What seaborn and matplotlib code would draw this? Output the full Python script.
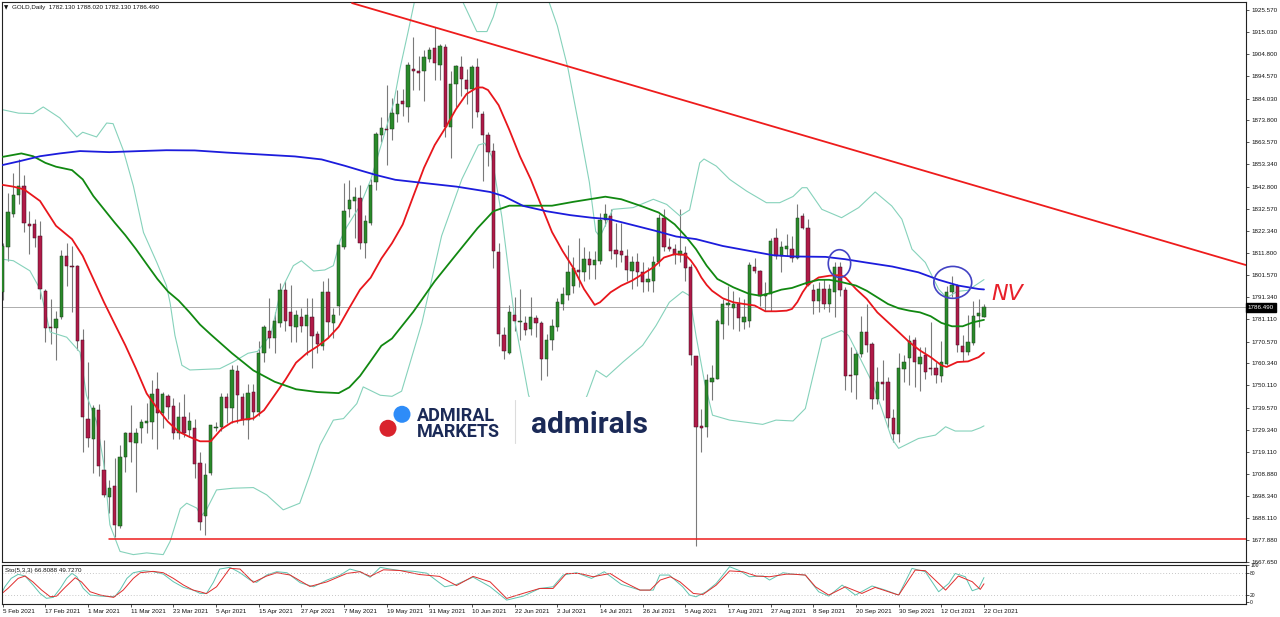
"""
GOLD Daily - candles, MAs, Bollinger, stochastic (MT4 style)
"""
import numpy as np
import pandas as pd
import matplotlib
matplotlib.use('Agg')
import matplotlib.pyplot as plt
import matplotlib.transforms as mtransforms
from matplotlib.patches import Ellipse, Rectangle
from matplotlib.lines import Line2D
import seaborn as sns

sns.set_theme(style='white')
plt.rcParams['font.family'] = ['Liberation Sans', 'DejaVu Sans']

# ---------------- data ----------------
dates = pd.bdate_range('2021-02-05', '2021-10-22')
dates = dates[dates != pd.Timestamp('2021-04-02')]   # Good Friday, no bar

opens = [
    1793.6, 1814.5, 1830.3, 1838.8, 1843.2, 1825.6, 1825.6, 1819.9, 1794.0, 1777.3,
    1776.8, 1781.9, 1810.3, 1806.0, 1806.0, 1771.1, 1734.2, 1725.3, 1738.5, 1710.6,
    1698.2, 1703.3, 1684.3, 1716.8, 1727.7, 1723.3, 1730.3, 1732.5, 1733.1, 1748.6,
    1737.4, 1745.2, 1740.5, 1728.1, 1735.4, 1729.2, 1730.0, 1713.8, 1689.0, 1709.4,
    1730.1, 1730.6, 1744.7, 1739.4, 1756.6, 1744.7, 1734.1, 1747.0, 1737.7, 1765.1,
    1775.7, 1772.1, 1779.2, 1794.8, 1784.5, 1777.4, 1781.9, 1777.8, 1781.9, 1773.9,
    1768.6, 1793.7, 1779.3, 1787.2, 1814.6, 1832.3, 1836.2, 1837.6, 1816.4, 1826.1,
    1845.0, 1866.8, 1869.8, 1869.8, 1876.8, 1882.7, 1880.0, 1898.0, 1896.8, 1896.8,
    1902.7, 1907.4, 1899.8, 1908.0, 1870.8, 1890.6, 1898.6, 1892.8, 1888.5, 1898.6,
    1876.8, 1866.8, 1859.7, 1812.5, 1773.6, 1765.4, 1783.1, 1779.6, 1779.2, 1776.6,
    1781.4, 1779.2, 1762.4, 1771.3, 1777.5, 1788.0, 1792.5, 1796.5, 1804.0, 1803.1,
    1809.3, 1806.5, 1808.3, 1827.3, 1829.0, 1813.4, 1812.9, 1810.6, 1803.6, 1807.5,
    1803.2, 1798.5, 1799.0, 1807.5, 1828.4, 1814.8, 1814.0, 1810.9, 1812.1, 1805.6,
    1763.8, 1731.2, 1730.8, 1751.7, 1753.2, 1778.8, 1787.7, 1786.1, 1788.1, 1779.6,
    1780.4, 1805.6, 1803.6, 1792.0, 1792.8, 1818.7, 1810.3, 1814.0, 1814.0, 1809.8,
    1829.2, 1823.8, 1794.8, 1789.7, 1795.1, 1788.1, 1793.6, 1805.2, 1794.8, 1755.1,
    1754.8, 1764.9, 1775.0, 1769.5, 1743.6, 1751.7, 1751.7, 1734.9, 1727.2, 1757.6,
    1762.9, 1771.1, 1760.2, 1764.1, 1758.2, 1758.2, 1754.5, 1760.2, 1793.6, 1796.6,
    1768.4, 1765.7, 1770.0, 1782.4, 1782.13]
highs = [
    1816.5, 1840.0, 1849.4, 1855.9, 1848.1, 1831.5, 1827.7, 1826.9, 1795.1, 1790.5,
    1785.0, 1813.4, 1816.5, 1815.0, 1806.3, 1776.5, 1761.0, 1740.9, 1741.6, 1724.6,
    1706.0, 1716.0, 1722.3, 1728.4, 1740.9, 1730.0, 1734.3, 1742.0, 1752.5, 1756.4,
    1747.0, 1746.3, 1744.0, 1742.4, 1746.3, 1737.7, 1734.6, 1719.1, 1713.8, 1731.8,
    1733.2, 1746.5, 1746.5, 1759.4, 1759.8, 1746.5, 1750.6, 1750.6, 1770.7, 1778.3,
    1790.7, 1784.5, 1797.8, 1798.7, 1796.9, 1785.4, 1786.3, 1790.7, 1790.7, 1775.7,
    1799.0, 1800.1, 1786.3, 1816.4, 1844.7, 1846.1, 1842.9, 1843.8, 1829.6, 1846.4,
    1868.5, 1875.6, 1890.3, 1884.4, 1888.0, 1888.5, 1900.9, 1912.7, 1903.9, 1906.5,
    1908.3, 1917.2, 1909.7, 1909.7, 1896.8, 1899.8, 1903.9, 1897.7, 1899.8, 1903.0,
    1878.3, 1868.5, 1863.2, 1816.4, 1777.5, 1787.7, 1791.2, 1795.1, 1782.4, 1791.6,
    1782.8, 1780.1, 1773.9, 1781.0, 1790.7, 1796.0, 1815.5, 1810.2, 1819.0, 1814.6,
    1813.0, 1813.0, 1830.4, 1834.6, 1832.3, 1826.1, 1825.8, 1813.7, 1810.6, 1811.8,
    1807.5, 1805.6, 1810.3, 1830.0, 1832.3, 1819.1, 1816.0, 1832.3, 1815.2, 1806.7,
    1764.0, 1739.3, 1755.6, 1759.5, 1781.2, 1790.5, 1796.7, 1794.3, 1791.2, 1790.5,
    1807.5, 1809.8, 1804.1, 1798.2, 1819.1, 1823.8, 1817.6, 1820.7, 1820.0, 1834.6,
    1830.8, 1827.7, 1797.4, 1798.2, 1799.8, 1797.4, 1807.5, 1807.5, 1795.9, 1768.0,
    1766.4, 1782.7, 1788.1, 1770.3, 1758.7, 1761.8, 1754.0, 1739.3, 1765.3, 1764.4,
    1773.4, 1772.6, 1768.0, 1768.0, 1779.6, 1761.0, 1770.6, 1796.3, 1801.3, 1797.4,
    1773.4, 1783.0, 1789.7, 1790.5, 1788.02]
lows = [
    1790.0, 1808.3, 1828.9, 1834.6, 1821.5, 1811.4, 1814.5, 1790.5, 1770.3, 1769.5,
    1761.8, 1781.0, 1796.7, 1784.6, 1766.4, 1718.8, 1721.5, 1709.0, 1708.0, 1698.2,
    1690.5, 1679.1, 1683.5, 1709.9, 1714.5, 1700.5, 1723.0, 1728.0, 1725.3, 1720.4,
    1730.0, 1734.6, 1725.3, 1725.3, 1726.1, 1726.1, 1706.7, 1682.8, 1680.2, 1708.5,
    1728.8, 1728.8, 1732.4, 1732.4, 1732.7, 1731.8, 1725.3, 1734.1, 1735.9, 1761.0,
    1767.7, 1765.1, 1777.4, 1775.7, 1770.4, 1770.4, 1774.8, 1764.2, 1758.0, 1765.1,
    1766.8, 1772.2, 1772.2, 1782.8, 1813.7, 1828.7, 1819.0, 1813.7, 1809.6, 1825.2,
    1841.5, 1863.8, 1853.2, 1864.5, 1873.3, 1876.0, 1873.0, 1888.0, 1888.0, 1882.7,
    1901.2, 1892.8, 1892.8, 1866.2, 1856.1, 1880.0, 1885.3, 1881.4, 1870.3, 1875.6,
    1845.5, 1852.6, 1804.9, 1768.6, 1762.4, 1764.7, 1775.7, 1771.3, 1773.6, 1773.6,
    1772.5, 1752.7, 1754.5, 1766.8, 1775.3, 1785.4, 1790.2, 1793.4, 1796.0, 1798.7,
    1800.0, 1800.0, 1806.7, 1824.6, 1809.0, 1805.2, 1807.5, 1799.0, 1795.1, 1796.6,
    1793.6, 1794.3, 1793.6, 1806.0, 1812.9, 1812.9, 1806.7, 1807.5, 1799.0, 1759.8,
    1674.9, 1719.1, 1726.1, 1743.2, 1752.9, 1771.9, 1778.1, 1776.5, 1775.3, 1776.5,
    1777.3, 1802.5, 1787.3, 1785.0, 1785.0, 1809.1, 1802.9, 1810.6, 1807.5, 1809.0,
    1823.0, 1796.3, 1783.5, 1784.6, 1785.8, 1784.2, 1781.9, 1792.0, 1747.8, 1747.0,
    1743.6, 1763.3, 1765.7, 1739.3, 1741.6, 1743.2, 1730.0, 1723.5, 1723.8, 1751.7,
    1750.1, 1749.4, 1747.4, 1752.9, 1754.8, 1751.4, 1751.7, 1759.8, 1791.2, 1765.7,
    1761.3, 1764.4, 1768.8, 1777.3, 1782.13]
closes = [
    1815.3, 1831.1, 1838.8, 1843.2, 1826.1, 1824.6, 1819.1, 1795.1, 1776.8, 1776.7,
    1780.9, 1810.6, 1806.0, 1805.4, 1770.8, 1735.4, 1725.6, 1739.6, 1712.6, 1699.0,
    1702.1, 1685.0, 1716.8, 1728.0, 1723.8, 1727.7, 1732.8, 1733.4, 1746.3, 1737.4,
    1746.3, 1740.1, 1728.1, 1735.4, 1728.1, 1733.4, 1713.3, 1686.4, 1708.5, 1731.5,
    1730.6, 1744.7, 1739.4, 1757.1, 1745.6, 1734.1, 1746.5, 1737.7, 1765.1, 1777.4,
    1772.1, 1780.1, 1794.8, 1780.1, 1777.8, 1782.8, 1777.8, 1782.8, 1773.0, 1769.5,
    1793.7, 1779.6, 1782.8, 1815.5, 1831.4, 1836.7, 1837.9, 1816.4, 1827.0, 1843.8,
    1867.3, 1870.3, 1869.3, 1877.4, 1881.4, 1881.3, 1899.5, 1896.8, 1895.9, 1903.5,
    1906.9, 1900.4, 1908.7, 1870.8, 1891.0, 1899.1, 1893.3, 1888.5, 1898.6, 1877.9,
    1866.8, 1859.2, 1812.8, 1774.3, 1766.0, 1784.2, 1780.1, 1780.3, 1776.0, 1781.9,
    1779.2, 1762.4, 1771.3, 1777.8, 1788.9, 1793.0, 1803.1, 1804.9, 1803.1, 1809.3,
    1806.5, 1808.7, 1827.3, 1830.0, 1812.9, 1811.4, 1810.9, 1804.1, 1807.5, 1802.9,
    1798.5, 1799.7, 1807.5, 1828.4, 1814.5, 1814.0, 1810.9, 1812.9, 1804.7, 1764.4,
    1730.8, 1730.3, 1752.5, 1753.6, 1780.4, 1788.1, 1788.7, 1788.1, 1781.5, 1781.9,
    1806.3, 1803.6, 1792.0, 1792.8, 1817.6, 1810.6, 1814.5, 1815.0, 1809.8, 1828.4,
    1823.8, 1796.9, 1789.7, 1795.1, 1788.1, 1795.1, 1805.2, 1794.8, 1754.5, 1754.5,
    1764.9, 1775.0, 1768.8, 1743.6, 1751.7, 1750.9, 1734.9, 1727.2, 1758.2, 1761.0,
    1770.6, 1761.0, 1763.3, 1756.3, 1757.6, 1755.1, 1761.0, 1793.9, 1796.9, 1768.8,
    1765.7, 1770.3, 1782.7, 1784.0, 1786.49]

# moving averages (bar index, price) read at points along each line
ma20_idx = [0, 2, 4, 7, 10, 13, 15, 17, 19, 21, 23, 25, 27, 29, 31, 33, 35, 37, 39, 41,
            43, 45, 47, 49, 51, 53, 55, 57, 59, 61, 63, 65, 67, 69, 71, 73, 75, 77, 79, 81,
            83, 85, 87, 89, 90, 91, 93, 95, 97, 99, 101, 103, 105, 107, 109, 111, 112, 114,
            116, 118, 120, 122, 124, 126, 128, 129, 130, 131, 132, 133, 135, 137, 139, 141,
            143, 145, 147, 148, 149, 150, 151, 153, 155, 157, 158, 160, 162, 164, 166, 168,
            170, 172, 174, 176, 177, 179, 181, 183, 184]
ma20_val = [1843.7, 1842.9, 1841.6, 1836.2, 1824.6, 1818.4, 1810.6, 1799.8, 1788.9, 1778.8,
            1768.8, 1757.9, 1746.3, 1739.3, 1733.1, 1728.5, 1726.1, 1724.0, 1724.0, 1729.7,
            1732.9, 1734.1, 1734.7, 1738.5, 1745.6, 1752.7, 1760.7, 1765.1, 1768.3, 1772.1,
            1777.5, 1786.3, 1794.8, 1800.4, 1809.3, 1816.5, 1825.2, 1838.5, 1851.7, 1862.3,
            1870.3, 1879.1, 1886.2, 1889.2, 1889.2, 1888.0, 1880.9, 1869.4, 1857.0, 1846.4,
            1834.0, 1821.7, 1812.8, 1804.9, 1795.1, 1787.7, 1788.9, 1793.6, 1796.7, 1799.0,
            1802.1, 1805.2, 1809.8, 1811.4, 1811.0, 1808.5, 1805.0, 1800.5, 1797.0, 1794.3,
            1790.8, 1788.9, 1788.1, 1787.4, 1784.7, 1784.7, 1785.0, 1785.8, 1789.0, 1793.6,
            1797.2, 1800.5, 1801.3, 1801.6, 1800.5, 1795.1, 1790.5, 1784.2, 1779.6, 1775.0,
            1770.3, 1766.4, 1763.3, 1759.5, 1758.7, 1761.0, 1761.3, 1763.3, 1765.3]

ma50_idx = [0, 3.5, 5.7, 8, 10, 13, 15, 17, 19, 21, 23, 25, 27, 29, 31, 33, 35, 37, 39, 43,
            47, 51, 55, 59, 63, 65, 67, 69, 71, 73, 77, 81, 85, 89, 92, 95, 99, 103, 107, 110,
            113, 116, 120, 123, 126, 128, 130, 132, 134, 137, 140, 142, 144, 146, 148, 151,
            153, 155, 157, 160, 162, 164, 166, 168, 170, 172, 174, 176, 178, 180, 182, 184]
ma50_val = [1856.8, 1858.4, 1857.1, 1854.0, 1852.2, 1850.6, 1846.3, 1838.5, 1832.3, 1826.1,
            1820.2, 1813.7, 1806.7, 1799.8, 1793.9, 1789.7, 1784.3, 1778.5, 1773.9, 1765.1,
            1757.1, 1751.8, 1748.3, 1747.0, 1746.5, 1749.2, 1754.5, 1761.5, 1768.6, 1772.0,
            1784.5, 1798.7, 1811.1, 1823.4, 1831.4, 1834.0, 1834.0, 1834.0, 1835.8, 1837.0,
            1838.2, 1837.0, 1833.6, 1830.8, 1825.3, 1819.9, 1813.7, 1806.0, 1799.8, 1795.9,
            1792.8, 1792.0, 1793.2, 1794.8, 1795.6, 1798.2, 1799.4, 1799.4, 1798.5, 1796.7,
            1794.3, 1791.2, 1788.1, 1786.1, 1785.0, 1784.2, 1782.4, 1779.3, 1777.7, 1777.7,
            1779.6, 1780.7]

ma200_idx = [0, 3.2, 7, 10.7, 14.5, 20, 25.7, 30.7, 36, 42, 48.5, 54.8, 59.8, 64.2, 67.3,
             70.2, 73.6, 78.9, 85.1, 91.4, 93.9, 97.6, 102, 106.4, 110.4, 113.8, 117.6, 122.5,
             126.3, 130, 135, 140, 144.4, 148.2, 154.3, 158, 161.8, 166.8, 171.7, 175.5,
             179.2, 183, 184]
ma200_val = [1853.0, 1854.8, 1857.1, 1858.4, 1859.5, 1859.0, 1859.5, 1859.9, 1859.8, 1858.8,
             1857.9, 1857.0, 1855.6, 1852.6, 1850.3, 1848.2, 1846.1, 1844.6, 1842.9, 1840.4,
             1838.5, 1833.9, 1831.4, 1829.6, 1828.4, 1827.7, 1825.3, 1822.2, 1819.6, 1818.4,
             1815.2, 1812.9, 1810.9, 1810.3, 1810.1, 1809.0, 1807.5, 1805.6, 1802.9, 1799.4,
             1796.7, 1795.1, 1794.9]

# Bollinger bands (20)
bb_up_idx = [0, 3, 5.7, 7.6, 10.7, 13.9, 15, 17.6, 19.5, 20.7, 22.6, 24.5, 26.4, 28.9, 30.7,
             31.4, 32.3, 33.6, 35.1, 37, 40.7, 43.2, 46, 47.8, 50.3, 52, 53, 54.5, 56, 58.3,
             60.4, 62, 63.3, 64.5, 67, 69, 71.4, 73.3, 74.5, 76, 77.7, 80, 84, 86.3, 88.9,
             90.8, 92, 93.5, 96, 100, 102.6, 104, 106, 108, 110, 111.2, 112, 114.4, 118.2,
             122, 124.5, 127, 128.8, 130.7, 131.5, 133.8, 136.3, 139.5, 143.2, 145.7, 148.2,
             149.9, 150.8, 153.6, 157.3, 160.5, 163.6, 166.7, 168.6, 170.5, 173, 175.5, 177,
             179, 181, 184]
bb_up_val = [1878.8, 1877.2, 1877.0, 1880.1, 1875.0, 1866.1, 1868.3, 1866.1, 1872.6, 1872.3,
             1860.0, 1843.2, 1821.5, 1807.5, 1796.7, 1788.5, 1773.4, 1759.5, 1757.3, 1757.5,
             1757.9, 1761.0, 1765.1, 1766.0, 1773.9, 1793.0, 1798.5, 1806.0, 1808.3, 1803.5,
             1804.0, 1806.0, 1818.0, 1824.0, 1834.0, 1846.0, 1866.0, 1882.0, 1898.0, 1915.0,
             1935.0, 1950.0, 1945.0, 1929.0, 1915.3, 1915.3, 1922.2, 1935.0, 1950.0, 1945.0,
             1928.0, 1918.0, 1898.0, 1872.0, 1845.0, 1822.0, 1819.5, 1832.3, 1833.1, 1837.0,
             1834.6, 1829.2, 1832.0, 1854.0, 1855.8, 1852.5, 1846.3, 1840.8, 1835.4, 1835.4,
             1838.3, 1842.4, 1842.4, 1832.3, 1828.4, 1833.1, 1840.4, 1833.9, 1827.7, 1813.7,
             1807.5, 1795.0, 1791.0, 1794.0, 1794.5, 1799.5]
bb_lo_idx = [0, 2, 5.1, 7, 8.9, 12, 14.5, 15.7, 17.6, 18.9, 20.1, 22, 24.5, 27, 30.1, 31.4,
             33.3, 34.5, 36.4, 37.2, 38.2, 40.1, 43.2, 47, 49.5, 52.6, 55.7, 57.6, 59.5, 62,
             63.9, 66.4, 67.6, 70.8, 73, 74.8, 78.6, 82.3, 86.1, 89.2, 90.4, 91.7, 93.6, 96.1,
             98.6, 100.5, 103, 106, 108, 109.6, 111.3, 113.2, 116.3, 120, 122.5, 125, 127.5,
             128.8, 130, 131.6, 133.1, 136.3, 142.5, 145, 148.2, 150.5, 153.6, 157.3, 158.6,
             160.5, 163, 164.8, 166.7, 168, 169.2, 171.7, 174.9, 176.8, 178.6, 181.7, 183.3, 184]
bb_lo_val = [1809.0, 1808.3, 1803.6, 1795.1, 1775.0, 1772.6, 1765.6, 1745.5, 1733.1, 1714.5,
             1685.0, 1672.6, 1671.1, 1671.9, 1671.1, 1677.3, 1692.5, 1695.1, 1692.8, 1689.0,
             1692.0, 1701.3, 1702.1, 1702.4, 1699.0, 1692.0, 1695.1, 1708.3, 1722.3, 1733.9,
             1734.6, 1741.6, 1749.4, 1745.5, 1745.0, 1747.4, 1779.2, 1819.9, 1846.4, 1862.3,
             1863.2, 1857.0, 1828.7, 1779.2, 1745.6, 1733.0, 1726.0, 1728.0, 1737.0, 1745.5,
             1757.1, 1754.0, 1761.0, 1768.8, 1778.0, 1788.9, 1793.9, 1792.0, 1773.4, 1751.7,
             1736.2, 1733.9, 1731.9, 1733.9, 1733.5, 1739.3, 1771.9, 1775.7, 1773.4, 1764.1,
             1751.7, 1739.3, 1725.3, 1720.7, 1722.2, 1725.3, 1726.9, 1730.8, 1728.8, 1728.8,
             1730.3, 1731.2]

# stochastic (5,3,3)
sto_k_idx = [0, 0.4, 1.6, 2.9, 4.2, 5.7, 7, 8.2, 9.5, 10.8, 12, 13, 13.9, 15.1, 16.4, 18.3,
             20.1, 21.1, 22, 23.3, 24.5, 26.4, 28.2, 30.1, 32, 33.9, 35.7, 37, 38.2, 39.5,
             40.7, 42.6, 44.5, 46.4, 47.6, 49.5, 51.4, 53.3, 55.8, 58.3, 60.8, 63.3, 65.1, 67,
             68.9, 70.8, 72.6, 74.5, 77, 79.5, 82.9, 85.1, 88.2, 91.4, 94.5, 97.6, 100.7,
             103.2, 105.1, 107.6, 110.4, 112.8, 116, 119.5, 122, 123.2, 125, 127.5, 128.8,
             130, 131.9, 133.8, 136.3, 138.2, 140, 142.6, 143.8, 146.3, 148.2, 150.5, 153,
             154.9, 157.4, 159.9, 163, 165.5, 168, 170.5, 173, 175.5, 177.4, 178.6, 180.5,
             181.8, 183, 184]
sto_k_val = [30.0, 41.6, 64.6, 75.6, 71.0, 46.3, 23.6, 10.0, 12.6, 37.3, 64.6, 78.3, 69.0,
             37.3, 19.0, 16.2, 14.4, 16.0, 32.6, 64.6, 80.0, 85.5, 82.8, 76.4, 55.4, 40.0,
             32.6, 23.6, 23.0, 53.6, 90.0, 94.8, 80.0, 60.0, 53.6, 73.7, 82.8, 80.0, 52.6,
             41.6, 60.0, 73.7, 90.0, 82.8, 67.4, 94.8, 90.0, 86.0, 84.0, 78.8, 41.6, 48.0,
             68.0, 41.6, 5.2, 16.0, 37.0, 41.6, 73.7, 80.0, 64.5, 82.7, 48.0, 32.5, 32.5,
             73.6, 73.6, 41.6, 18.8, 14.2, 28.0, 50.8, 96.4, 85.5, 69.0, 71.0, 60.0, 80.0,
             76.0, 73.6, 28.0, 16.0, 46.2, 18.8, 43.8, 32.5, 18.8, 91.8, 82.7, 28.0, 50.8,
             78.0, 69.0, 30.7, 37.0, 66.8]
sto_d_idx = [0, 1, 2.9, 4.2, 5.7, 7.3, 8.9, 10.1, 11.7, 13.6, 14.8, 16.4, 18.3, 20.8, 22.6,
             24.5, 25.8, 28.2, 30.1, 32, 33.9, 35.7, 37, 38.2, 40.1, 42.6, 44.5, 47, 49.5,
             51.4, 53.9, 57.6, 60.8, 64.5, 67, 68.9, 71.4, 74.5, 78.2, 81.9, 85.1, 88.2, 91.4,
             94.5, 97.6, 100.7, 103.2, 105.7, 108.2, 110.7, 113.9, 116.4, 119.5, 121.4, 123.3,
             125.2, 127, 129.5, 131.3, 133.8, 136.3, 138.8, 141.3, 143.8, 146.9, 148.2, 150.5,
             152.4, 154.9, 158, 161.1, 163.6, 168, 171.1, 173, 175.5, 176.8, 179.2, 181.8,
             183.3, 184]
sto_d_val = [25.0, 37.3, 64.6, 71.0, 54.5, 32.6, 14.4, 16.0, 40.0, 66.3, 54.5, 28.0, 19.0,
             12.6, 32.6, 64.6, 80.0, 83.7, 80.0, 64.6, 46.3, 32.6, 28.0, 23.0, 41.6, 92.0,
             90.0, 53.6, 71.0, 80.0, 73.7, 42.5, 55.0, 78.0, 82.8, 70.0, 88.0, 86.0, 75.0,
             70.0, 45.0, 70.0, 55.0, 9.7, 23.6, 37.0, 37.0, 78.0, 78.0, 69.0, 78.0, 55.0,
             32.5, 32.5, 60.0, 69.0, 55.0, 23.4, 20.6, 46.2, 85.0, 82.7, 71.0, 69.0, 76.0,
             76.0, 73.6, 41.6, 18.8, 41.6, 23.4, 39.9, 18.8, 87.3, 85.5, 50.8, 32.5, 71.0,
             55.4, 34.4, 49.7]

# drawn objects
trend_idx = [65.5, 233.1]
trend_val = [1928.6, 1806.3]
support_start = 19.9
support_level = 1678.4
last_price = 1786.49
price_ticks = [1925.57, 1915.03, 1904.80, 1894.57, 1884.03, 1873.80, 1863.57, 1853.34,
               1842.80, 1832.57, 1822.34, 1811.80, 1801.57, 1791.34, 1781.11, 1770.57,
               1760.34, 1750.11, 1739.57, 1729.34, 1719.11, 1708.88, 1698.34, 1688.11,
               1677.88, 1667.65]
circle_idx = [156.9, 178.15]
circle_val = [1807.0, 1798.2]
circle_w = [4.2, 7.1]
circle_h = [12.9, 14.9]

# ---------------- figure ----------------
W, H = 1280, 617
GREEN = '#2a8a2a'
RED = '#b01a48'


def fx(x):
    return x / W


def fy(y):
    return 1 - y / H


fig = plt.figure(figsize=(W / 100, H / 100), dpi=100)
fig.patch.set_facecolor('white')
ax = fig.add_axes([fx(2), fy(562), (1246 - 2) / W, (562 - 2) / H])
ax2 = fig.add_axes([fx(2), fy(604), (1246 - 2) / W, (604 - 565) / H])

df = pd.DataFrame({'date': dates, 'open': opens, 'high': highs,
                   'low': lows, 'close': closes})
df['i'] = np.arange(len(df))
up = df['close'] >= df['open']
body_lo = np.minimum(df['open'], df['close'])
body_h = (df['close'] - df['open']).abs().clip(lower=0.45)

# wicks and bodies
ax.vlines(df['i'], df['low'], df['high'], color='#7a7a7a', lw=0.8, zorder=2)
ax.bar(df['i'][up], body_h[up], bottom=body_lo[up], width=0.62, color=GREEN,
       edgecolor='#1d3b1d', linewidth=0.35, zorder=3)
ax.bar(df['i'][~up], body_h[~up], bottom=body_lo[~up], width=0.62, color=RED,
       edgecolor='#3b1020', linewidth=0.35, zorder=3)

# indicators
bb_col = '#86d2bb'
sns.lineplot(x=bb_up_idx, y=bb_up_val, ax=ax, color=bb_col, lw=0.8, estimator=None,
             sort=False, legend=False, zorder=2.5)
sns.lineplot(x=bb_lo_idx, y=bb_lo_val, ax=ax, color=bb_col, lw=0.8, estimator=None,
             sort=False, legend=False, zorder=2.5)
sns.lineplot(x=ma20_idx, y=ma20_val, ax=ax, color='#e8161c', lw=1.3, estimator=None,
             sort=False, legend=False, zorder=4)
sns.lineplot(x=ma50_idx, y=ma50_val, ax=ax, color='#118811', lw=1.3, estimator=None,
             sort=False, legend=False, zorder=4)
sns.lineplot(x=ma200_idx, y=ma200_val, ax=ax, color='#1c1cdc', lw=1.3, estimator=None,
             sort=False, legend=False, zorder=4)

# trend line, support, current price
ax.plot(trend_idx, trend_val, color='#ee1c1c', lw=1.3, zorder=4)
ax.plot([support_start, 240], [support_level, support_level], color='#ee1c1c', lw=1.1, zorder=4)
ax.axhline(last_price, color='#a0a0a0', lw=0.6, zorder=1.5)

for cx, cy, w, h in zip(circle_idx, circle_val, circle_w, circle_h):
    ax.add_patch(Ellipse((cx, cy), w, h, fill=False, edgecolor='#4343c4', lw=1.2, zorder=7))

ax.text(185.3, 1792.8, 'NV', color='#e8202a', fontsize=16, fontstyle='italic',
        family=['DejaVu Sans'], ha='left', va='center', zorder=7)

ax.set_xlim(-0.13, 233.13)
ax.set_ylim(1668.6, 1929.1)
ax.yaxis.tick_right()
ax.set_yticks(price_ticks)
ax.set_yticklabels([f'{v:.3f}' for v in price_ticks])
ax.tick_params(axis='y', right=True, length=2.5, width=0.5, pad=1.5, labelsize=4.5,
               colors='#111111')
ax.tick_params(axis='x', bottom=False, labelbottom=False)
ax.set_xlabel('')
ax.set_ylabel('')
for s in ax.spines.values():
    s.set_color('#222222')
    s.set_linewidth(0.8)

trans = mtransforms.blended_transform_factory(ax.transAxes, ax.transData)
ax.text(1.0015, last_price, f'{last_price:.3f}', transform=trans, ha='left', va='center',
        color='white', fontsize=4.5, clip_on=False, zorder=10,
        bbox=dict(boxstyle='square,pad=0.3', fc='black', ec='black'))

# ---------------- stochastic panel ----------------
sns.lineplot(x=sto_k_idx, y=sto_k_val, ax=ax2, color='#5fc4b0', lw=0.7, estimator=None,
             sort=False, legend=False)
sns.lineplot(x=sto_d_idx, y=sto_d_val, ax=ax2, color='#e02c2c', lw=0.7, estimator=None,
             sort=False, legend=False)
for lvl in (80, 20):
    ax2.axhline(lvl, color='#b4b4b4', lw=0.6, ls=(0, (1, 2.5)))
ax2.set_xlim(-0.13, 233.13)
ax2.set_ylim(-5.5, 101.1)
ax2.yaxis.tick_right()
ax2.set_yticks([0, 20, 80, 100])
ax2.set_yticklabels(['0', '20', '80', '100'])
ax2.tick_params(axis='y', right=True, length=2, width=0.5, pad=1, labelsize=3.6,
                colors='#111111')
tick_pos = list(range(0, len(df), 8))
ax2.set_xticks(tick_pos)
ax2.set_xticklabels([f"{d.day} {d.strftime('%b %Y')}" for d in df['date'].iloc[tick_pos]])
ax2.tick_params(axis='x', bottom=True, length=2.5, width=0.5, pad=0.8, labelsize=4.5,
                colors='#111111')
for lbl in ax2.get_xticklabels():
    lbl.set_ha('left')
ax2.set_xlabel('')
ax2.set_ylabel('')
for s in ax2.spines.values():
    s.set_color('#222222')
    s.set_linewidth(0.8)

# ---------------- header texts ----------------
fig.text(fx(4), fy(7.3), '\u25bc', fontsize=4, va='center', ha='left', color='#111111',
         family=['DejaVu Sans'])
fig.text(fx(12.3), fy(7.3), 'GOLD,Daily  1782.130 1788.020 1782.130 1786.490',
         fontsize=4.5, va='center', ha='left', color='#111111')
fig.text(fx(5), fy(570.5), 'Sto(5,3,3) 66.8088 49.7270', fontsize=4.5, va='center',
         ha='left', color='#111111')

# ---------------- watermark logo ----------------
NAVY = '#1b2a57'
fig.add_artist(Rectangle((fx(368), fy(447)), (660 - 368) / W, (447 - 397) / H,
                         transform=fig.transFigure, fc='white', ec='none', zorder=1))
fig.add_artist(Ellipse((fx(388), fy(428.3)), 17 / W, 17 / H, transform=fig.transFigure,
                       fc='#d9232d', ec='none', zorder=2))
fig.add_artist(Ellipse((fx(402), fy(414.3)), 17 / W, 17 / H, transform=fig.transFigure,
                       fc='#2e8cf8', ec='none', zorder=2))
fig.text(fx(416.5), fy(406.8), 'ADMIRAL\nMARKETS', fontsize=13, fontweight='bold',
         family=['Roboto', 'DejaVu Sans'], color=NAVY, va='top', ha='left',
         linespacing=0.9, zorder=3)
fig.add_artist(Line2D([fx(515), fx(515)], [fy(400), fy(443)], transform=fig.transFigure,
                      color='#dcdcdc', lw=0.8, zorder=2))
fig.text(fx(531.5), fy(433.3), 'admirals', fontsize=21.5, fontweight='bold',
         family=['Roboto', 'DejaVu Sans'], color=NAVY, va='baseline', ha='left', zorder=3)

fig.savefig('out.png', dpi=100)
